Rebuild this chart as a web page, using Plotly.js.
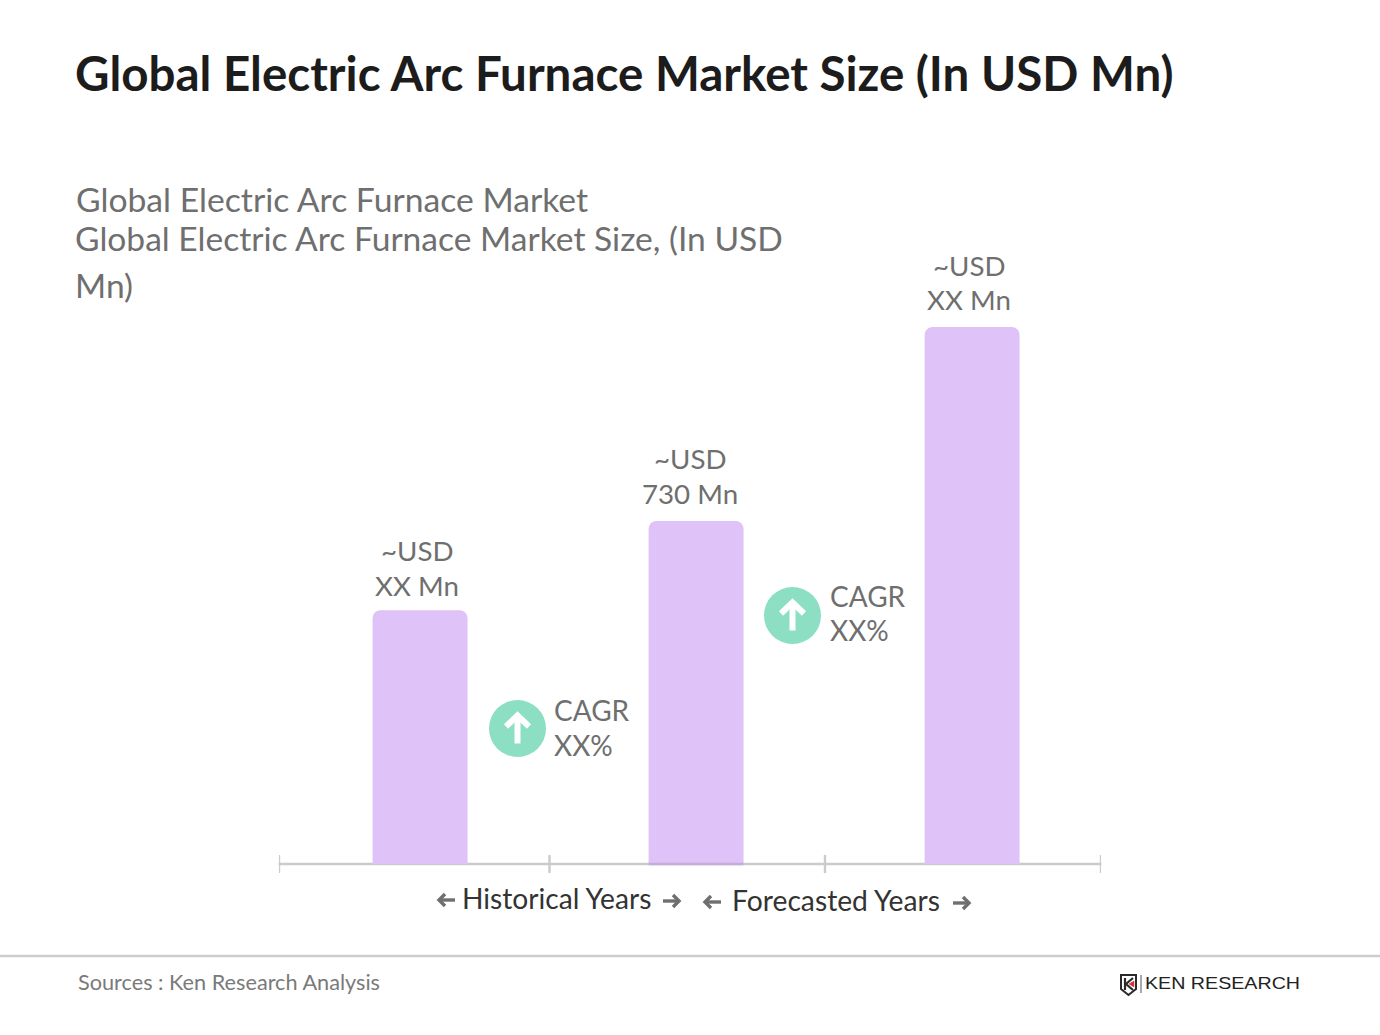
<!DOCTYPE html>
<html><head><meta charset="utf-8">
<script src="https://cdn.plot.ly/plotly-3.0.1.min.js"></script>
<style>html,body{margin:0;padding:0;background:#fff}#c{width:1380px;height:1035px}</style>
</head><body><div id="c"></div>
<script>
const categories = [0, 1, 2];
const values = [540, 730, 1143];
const labelTop = ['~USD', '~USD', '~USD'];
const labelBottom = ['XX Mn', '730 Mn', 'XX Mn'];
const periodEdges = [-0.511, 0.469, 1.467, 2.467];
const cagrTop = ['CAGR', 'CAGR'];
const cagrBottom = ['XX%', 'XX%'];

const labelShift = [-3, -6, -3];
const labelGap = [25, 28, 27];
const W = 1380, H = 1035, L = 279, R = 1101, T = 100, B = 864;
const px = p => (p - L) / (R - L);
const py = p => (B - p) / (B - T);
const grey = '#6f6f6f', F = 'Lato, "Open Sans", sans-serif';

function txt(text, x, y, size, color, xanchor, extra) {
  return Object.assign({text, x: px(x), y: py(y), xref: 'paper', yref: 'paper', showarrow: false,
    xanchor: xanchor || 'left', yanchor: 'middle', align: xanchor === 'center' ? 'center' : 'left',
    font: {family: F, size, color}, borderpad: 0, borderwidth: 0}, extra || {});
}
function path(points, close) {
  return 'M' + points.map(p => px(p[0]) + ',' + py(p[1])).join(' L') + (close ? ' Z' : '');
}
function arrowShapes(cx, cy) {
  const st = {type: 'path', xref: 'paper', yref: 'paper', line: {color: '#fff', width: 6}, layer: 'above'};
  return [
    Object.assign({}, st, {path: path([[cx, cy + 14], [cx, cy - 13]])}),
    Object.assign({}, st, {path: path([[cx - 11.5, cy - 3], [cx, cy - 14], [cx + 11.5, cy - 3]])})
  ];
}
function sideArrow(x0, x1, y) {
  const dir = x1 > x0 ? 1 : -1;
  const st = {type: 'path', xref: 'paper', yref: 'paper', line: {color: '#6f6f6f', width: 3.4}, layer: 'above'};
  return [
    Object.assign({}, st, {path: path([[x0, y], [x1 - dir, y]])}),
    Object.assign({}, st, {path: path([[x1 - dir * 7, y - 6], [x1 - dir, y], [x1 - dir * 7, y + 6]])})
  ];
}
function circle(cx, cy, r) {
  return {type: 'circle', xref: 'paper', yref: 'paper', x0: px(cx - r), x1: px(cx + r), y0: py(cy + r), y1: py(cy - r),
    fillcolor: '#8cdfc3', line: {width: 0}, layer: 'above'};
}
function hline(x0, x1, y, color, w, layer) {
  return {type: 'line', xref: 'paper', yref: 'paper', x0: px(x0), x1: px(x1), y0: py(y), y1: py(y),
    line: {color, width: w}, layer: layer || 'below'};
}

const shapes = [
  hline(278.5, 1101.5, 864, '#cbcbcb', 2.5),
  hline(648.5, 743.5, 864, '#c4add6', 2.5, 'above'),
  hline(0, 1380, 956, '#cdcdcd', 2.5),
  circle(517.5, 728.5, 28.5), circle(792.5, 615.5, 28.5),
  ...arrowShapes(517.5, 729.5), ...arrowShapes(792.5, 616.5),
  ...sideArrow(455, 438, 900), ...sideArrow(663, 680, 901),
  ...sideArrow(721, 704, 902), ...sideArrow(953, 970, 903)
];
periodEdges.forEach(e => shapes.push({type: 'line', xref: 'x', yref: 'paper',
  x0: e, x1: e, y0: py(855), y1: py(873), line: {color: '#cbcbcb', width: 2.4}, layer: 'below'}));

// logo mark
shapes.push({type: 'path', xref: 'paper', yref: 'paper', layer: 'above',
  path: path([[1121, 975], [1136, 975], [1136, 989], [1128.5, 995], [1121, 989]], true),
  line: {color: '#2a2a2a', width: 2}, fillcolor: '#fff'});
shapes.push({type: 'path', xref: 'paper', yref: 'paper', layer: 'above',
  path: path([[1125, 978], [1125, 990]]), line: {color: '#2a2a2a', width: 2.2}});
shapes.push({type: 'path', xref: 'paper', yref: 'paper', layer: 'above',
  path: path([[1133, 978], [1126, 984], [1133, 990]]), line: {color: '#2a2a2a', width: 2.2}});
shapes.push({type: 'path', xref: 'paper', yref: 'paper', layer: 'above',
  path: path([[1129, 984], [1134, 981], [1134, 987]], true), line: {color: '#d0303a', width: 0.5}, fillcolor: '#d0303a'});
shapes.push({type: 'line', xref: 'paper', yref: 'paper', layer: 'above',
  x0: px(1141), x1: px(1141), y0: py(975), y1: py(993), line: {color: '#555', width: 1}});

const annotations = [
  txt('<b>Global Electric Arc Furnace Market Size (In USD Mn)</b>', 74.5, 72.5, 47.5, '#1c1c1c'),
  txt('Global Electric Arc Furnace Market', 75.5, 198.5, 33.7, grey),
  txt('Global Electric Arc Furnace Market Size, (In USD', 74.5, 238.5, 33.6, grey),
  txt('Mn)', 74.5, 285, 33.6, grey),
  txt(cagrTop[0], 554, 710, 28, grey),
  txt(cagrBottom[0], 554, 744.5, 28, grey),
  txt(cagrTop[1], 830, 595.5, 28, grey),
  txt(cagrBottom[1], 830, 630, 28, grey),
  txt('Historical Years', 462, 898, 28.2, '#333333'),
  txt('Forecasted Years', 732, 900, 28.25, '#333333'),
  txt('Sources : Ken Research Analysis', 78, 981.5, 21.7, '#7a7a7a'),
  txt('KEN RESEARCH', 1145, 983.5, 17, '#222222', 'left', {font: {family: 'Liberation Sans', size: 17, color: '#222222'}})
];
categories.forEach((c, i) => {
  const base = {x: c, y: values[i], xref: 'x', yref: 'y', showarrow: false, xshift: labelShift[i],
    xanchor: 'center', yanchor: 'middle', align: 'center', font: {family: F, size: 27.7, color: grey}};
  annotations.push(Object.assign({}, base, {text: labelBottom[i], yshift: labelGap[i]}));
  annotations.push(Object.assign({}, base, {text: labelTop[i], yshift: labelGap[i] + 34.5}));
});

Plotly.newPlot('c', [{
  type: 'bar', x: categories, y: values, width: 0.344, marker: {color: '#dec2f8', line: {width: 0}},
  hoverinfo: 'skip', showlegend: false
}], {
  width: W, height: H, paper_bgcolor: '#fff', plot_bgcolor: 'rgba(0,0,0,0)', showlegend: false,
  margin: {l: L, r: W - R, t: T, b: H - B, pad: 0},
  barcornerradius: 8,
  xaxis: {range: [periodEdges[0], periodEdges[3]], showgrid: false, zeroline: false, showticklabels: false, ticks: '', showline: false, fixedrange: true},
  yaxis: {range: [0, 1626], showgrid: false, zeroline: false, showticklabels: false, ticks: '', showline: false, fixedrange: true},
  shapes, annotations
}, {displayModeBar: false, staticPlot: true}).then(() => {
  document.querySelectorAll('.annotation-text').forEach(t => {
    if (t.textContent === 'KEN RESEARCH') {
      t.setAttribute('textLength', '155');
      t.setAttribute('lengthAdjust', 'spacingAndGlyphs');
    }
  });
});
</script></body></html>
